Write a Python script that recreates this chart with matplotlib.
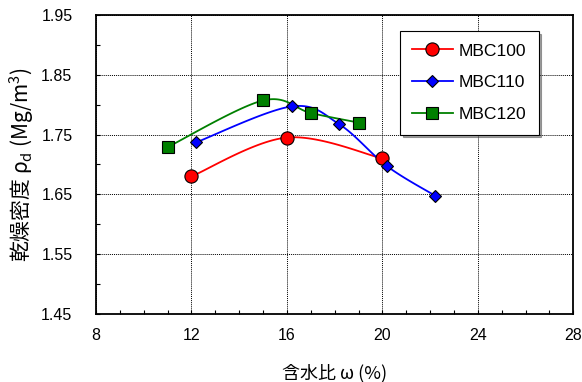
import numpy as np
import matplotlib
matplotlib.use('Agg')
import matplotlib.pyplot as plt
from matplotlib.ticker import MultipleLocator

plt.rcParams['font.family'] = ['Liberation Sans', 'Noto Sans CJK JP', 'DejaVu Sans']
plt.rcParams['mathtext.fontset'] = 'custom'
plt.rcParams['mathtext.rm'] = 'Noto Sans CJK JP'

# 含水比 (%) と乾燥密度 (Mg/m3)
w_100 = [12.0, 16.0, 20.0]
rho_100 = [1.680, 1.745, 1.710]

w_110 = [12.2, 16.2, 18.2, 20.2, 22.2]
rho_110 = [1.737, 1.797, 1.767, 1.697, 1.648]

w_120 = [11.0, 15.0, 17.0, 19.0]
rho_120 = [1.729, 1.807, 1.786, 1.770]

labels = ['MBC100', 'MBC110', 'MBC120']


def smooth(x, y, n=30):
    # Excel風のスムージング (Catmull-Rom)
    x = np.asarray(x, float)
    y = np.asarray(y, float)
    px = np.concatenate([[x[0]], x, [x[-1]]])
    py = np.concatenate([[y[0]], y, [y[-1]]])
    xs, ys = [], []
    for i in range(1, len(px) - 2):
        t = np.linspace(0, 1, n)
        for p, out in ((px, xs), (py, ys)):
            p0, p1, p2, p3 = p[i - 1], p[i], p[i + 1], p[i + 2]
            c1 = p1 + (p2 - p0) / 6
            c2 = p2 - (p3 - p1) / 6
            out.extend((1 - t)**3 * p1 + 3 * (1 - t)**2 * t * c1
                       + 3 * (1 - t) * t**2 * c2 + t**3 * p2)
    return xs, ys


fig = plt.figure(figsize=(5.82, 3.82), dpi=100)
ax = fig.add_axes([0.165, 0.178, 0.82, 0.783])

series = [
    (w_100, rho_100, 'red', 'o', 9.5, labels[0]),
    (w_110, rho_110, 'blue', 'D', 6.5, labels[1]),
    (w_120, rho_120, 'green', 's', 8.5, labels[2]),
]
handles = []
for x, y, c, m, ms, lab in series:
    sx, sy = smooth(x, y)
    ax.plot(sx, sy, color=c, lw=1.3, zorder=3)
    ax.plot(x, y, linestyle='none', marker=m, ms=ms, mfc=c, mec='black',
            mew=0.8, zorder=4)
    h, = ax.plot([], [], color=c, lw=1.3, marker=m, ms=ms, mfc=c,
                 mec='black', mew=0.8)
    h.set_label(lab)
    handles.append(h)

ax.set_xlim(8, 28)
ax.set_ylim(1.45, 1.95)
ax.xaxis.set_major_locator(MultipleLocator(4))
ax.xaxis.set_minor_locator(MultipleLocator(1))
ax.yaxis.set_major_locator(MultipleLocator(0.1, offset=0.05))
ax.yaxis.set_minor_locator(MultipleLocator(0.05))
ax.yaxis.set_major_formatter(plt.FormatStrFormatter('%.2f'))
ax.tick_params(which='both', direction='in', length=3, width=0.8,
               labelsize=11.5)
ax.tick_params(axis='x', pad=10)
ax.tick_params(axis='y', pad=17)
ax.grid(which='major', color='black', linestyle=(0, (1, 1)), linewidth=0.7)
for s in ax.spines.values():
    s.set_linewidth(1.3)

ax.set_xlabel('含水比 ω (%)', fontsize=13,
              family=['Noto Sans CJK JP', 'DejaVu Sans'], labelpad=15)
ax.set_ylabel('乾燥密度 ρ$_{\\mathregular{d}}$ (Mg/m$^{\\mathregular{3}}$)',
              fontsize=15, family=['Noto Sans CJK JP', 'DejaVu Sans'],
              labelpad=4)

leg = ax.legend(handles=handles, loc='upper left',
                bbox_to_anchor=(0.637, 0.946), borderaxespad=0,
                fontsize=12.6, fancybox=False, shadow=True, edgecolor='black',
                framealpha=1, handlelength=2.3, labelspacing=0.95,
                borderpad=0.7, handletextpad=0.35)
leg.get_frame().set_linewidth(0.8)

fig.savefig('out.png', dpi=100)
